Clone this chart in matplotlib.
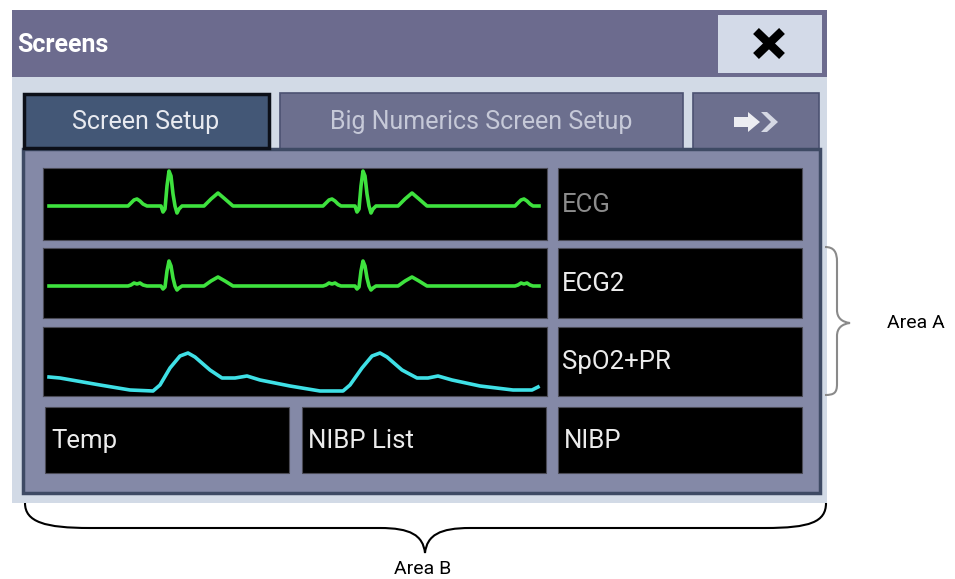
import matplotlib
matplotlib.use('Agg')
import matplotlib.pyplot as plt
from matplotlib.patches import Rectangle, Polygon, PathPatch
from matplotlib.path import Path
from matplotlib import font_manager

# --- data ---
window_title = 'Screens'
tab_labels = ['Screen Setup', 'Big Numerics Screen Setup']
wave_labels = ['ECG', 'ECG2', 'SpO2+PR']
bottom_labels = ['Temp', 'NIBP List', 'NIBP']
area_labels = ['Area A', 'Area B']

# ECG lead 1 (time in px units of the sweep, amplitude relative to baseline)
ecg1_t = [6, 85, 88, 91, 94, 97, 100, 104, 118, 120, 122, 124, 126, 128, 130, 132, 134, 136, 139,
          161, 168, 175, 182, 190,
          280, 283, 286, 289, 292, 295, 298, 312, 314, 316, 318, 320, 322, 324, 326, 328, 330, 333,
          355, 362, 369, 376, 384,
          472, 475, 478, 481, 484, 487, 490, 496]
ecg1_v = [0, 0, 3, 6, 7, 5, 2, 0, 0, -6, -3, 20, 35, 30, 12, 0, -7, -3, 0,
          0, 7, 13, 7, 0,
          0, 3, 6, 7, 5, 2, 0, 0, -6, -3, 20, 35, 30, 12, 0, -7, -3, 0,
          0, 7, 13, 7, 0,
          0, 3, 6, 7, 5, 2, 0, 0]

# ECG lead 2
ecg2_t = [6, 85, 88, 91, 94, 97, 100, 104, 118, 120, 122, 124, 126, 128, 130, 132, 134, 136, 139,
          161, 168, 175, 182, 190,
          280, 283, 286, 289, 292, 295, 298, 312, 314, 316, 318, 320, 322, 324, 326, 328, 330, 333,
          355, 362, 369, 376, 384,
          472, 475, 478, 481, 484, 487, 490, 496]
ecg2_v = [0, 0, 1, 3, 2, 3, 1, 0, 0, -3, -1, 15, 25, 20, 8, 0, -4, -2, 0,
          0, 5, 9, 5, 0,
          0, 1, 3, 2, 3, 1, 0, 0, -3, -1, 15, 25, 20, 8, 0, -4, -2, 0,
          0, 5, 9, 5, 0,
          0, 1, 3, 2, 3, 1, 0, 0]

# SpO2 pleth wave
pleth_t = [6, 17, 57, 87, 110, 117, 127, 137, 145, 152, 167, 179, 192, 204, 217, 247, 277,
           300, 307, 319, 329, 337, 344, 359, 374, 385, 395, 409, 437, 470, 489, 495]
pleth_v = [19, 18, 11, 6, 5, 11, 28, 40, 43, 39, 26, 18, 18, 20, 16, 10, 5,
           5, 11, 28, 40, 43, 39, 26, 18, 18, 20, 16, 10, 6, 6, 9]

W, H = 955, 579

installed = {f.name for f in font_manager.fontManager.ttflist}
narrow = 'Liberation Sans Narrow' if 'Liberation Sans Narrow' in installed else 'Roboto'

fig = plt.figure(figsize=(W / 100, H / 100), dpi=100)
ax = fig.add_axes([0, 0, 1, 1])
ax.set_xlim(0, W)
ax.set_ylim(H, 0)
ax.axis('off')


def box(x0, y0, x1, y1, fc, ec='none', lw=0, z=1):
    ax.add_patch(Rectangle((x0, y0), x1 - x0, y1 - y0, facecolor=fc,
                           edgecolor=ec, linewidth=lw, zorder=z))


# window frame + title bar
box(12, 10, 827, 503, '#d2dae6')
box(12, 10, 827, 77, '#6c6b8e', z=2)
ax.text(17, 45, window_title, fontsize=18, fontweight='bold', color='white',
        family=narrow, va='center', ha='left', zorder=3)

# close button
box(718, 15, 822, 73, '#d3dae8', z=3)
ax.plot([756, 782], [31, 56], color='black', lw=6, solid_capstyle='butt', zorder=4)
ax.plot([756, 782], [56, 31], color='black', lw=6, solid_capstyle='butt', zorder=4)

# tabs
box(280, 93, 683, 150, '#6c6f8e', ec='#4c5272', lw=1.2, z=2)
box(693, 93, 819, 150, '#6c6f8e', ec='#4c5272', lw=1.2, z=2)
box(24, 94, 269, 148, '#435776', ec='#0c0f18', lw=2.5, z=3)
ax.text(146, 122, tab_labels[0], fontsize=18, color='#e8eaf0', family=narrow,
        ha='center', va='center', zorder=4)
ax.text(481, 122, tab_labels[1], fontsize=18, color='#c6c9d8', family=narrow,
        ha='center', va='center', zorder=4)
# arrow icon on last tab
ax.add_patch(Polygon([(734, 117), (748, 117), (748, 112), (760, 122), (748, 132),
                      (748, 127), (734, 127)], closed=True, fc='#ecedf2', ec='none', zorder=4))
ax.add_patch(Polygon([(761, 112), (767, 112), (778, 122), (767, 132), (761, 132), (771, 122)],
                     closed=True, fc='#d5d8e4', ec='none', zorder=4))

# content panel
box(23, 149, 820, 493, '#8489a7', ec='#3e4a64', lw=2.5, z=2)

# cell rectangles (px)
wave_rows = [(168, 240), (248, 318), (327, 396)]
wave_x = (43, 547)
label_x = (558, 802)
bottom_row = (407, 473)
bottom_x = [(45, 289), (302, 546), (558, 802)]

label_colors = ['#8c8c8c', '#ececec', '#ececec']
for (y0, y1), lab, col in zip(wave_rows, wave_labels, label_colors):
    box(label_x[0], y0, label_x[1], y1, 'black', ec='#4a4a55', lw=0.8, z=3)
    ax.text(label_x[0] + 4, (y0 + y1) / 2 + 1, lab, fontsize=18.5, color=col,
            family=narrow, ha='left', va='center', zorder=4)

for (x0, x1), lab in zip(bottom_x, bottom_labels):
    box(x0, bottom_row[0], x1, bottom_row[1], 'black', ec='#4a4a55', lw=0.8, z=3)
    ax.text(x0 + 6, (bottom_row[0] + bottom_row[1]) / 2 + 1, lab, fontsize=18.5,
            color='#ececec', family=narrow, ha='left', va='center', zorder=4)

# waveform cells as their own axes
waves = [(ecg1_t, ecg1_v, '#3ee23e', (-34, 38)),
         (ecg2_t, ecg2_v, '#3ee23e', (-32, 38)),
         (pleth_t, pleth_v, '#3fe0e6', (0, 69))]
for (y0, y1), (t, v, col, ylim) in zip(wave_rows, waves):
    wa = fig.add_axes([wave_x[0] / W, 1 - y1 / H, (wave_x[1] - wave_x[0]) / W, (y1 - y0) / H])
    wa.set_facecolor('black')
    wa.plot(t, v, color=col, lw=2.6, solid_joinstyle='round')
    wa.set_xlim(0, wave_x[1] - wave_x[0])
    wa.set_ylim(*ylim)
    wa.set_xticks([])
    wa.set_yticks([])
    for s in wa.spines.values():
        s.set_color('#4a4a55')
        s.set_linewidth(0.8)

# brace for area A (grey)
brace_a = Path([(825, 247), (834, 247), (837, 252), (837, 262), (837, 310),
                (837, 318), (842, 322), (850, 323),
                (842, 324), (837, 328), (837, 336), (837, 384),
                (837, 393), (834, 395), (825, 395)],
               [Path.MOVETO, Path.CURVE4, Path.CURVE4, Path.CURVE4, Path.LINETO,
                Path.CURVE4, Path.CURVE4, Path.CURVE4,
                Path.CURVE4, Path.CURVE4, Path.CURVE4, Path.LINETO,
                Path.CURVE4, Path.CURVE4, Path.CURVE4])
ax.add_patch(PathPatch(brace_a, fc='none', ec='#8a8a8a', lw=1.5, zorder=5))
ax.text(887, 323, area_labels[0], fontsize=14, family=narrow, color='black',
        ha='left', va='center')

# brace for area B (black)
brace_b = Path([(25, 503), (25, 522), (45, 528), (90, 528), (380, 528),
                (410, 528), (423, 535), (425, 553),
                (427, 535), (440, 528), (470, 528), (765, 528),
                (810, 528), (826, 522), (826, 503)],
               [Path.MOVETO, Path.CURVE4, Path.CURVE4, Path.CURVE4, Path.LINETO,
                Path.CURVE4, Path.CURVE4, Path.CURVE4,
                Path.CURVE4, Path.CURVE4, Path.CURVE4, Path.LINETO,
                Path.CURVE4, Path.CURVE4, Path.CURVE4])
ax.add_patch(PathPatch(brace_b, fc='none', ec='black', lw=1.5, zorder=5))
ax.text(423, 569, area_labels[1], fontsize=14, family=narrow, color='black',
        ha='center', va='center')

fig.savefig('out.png', dpi=100)
